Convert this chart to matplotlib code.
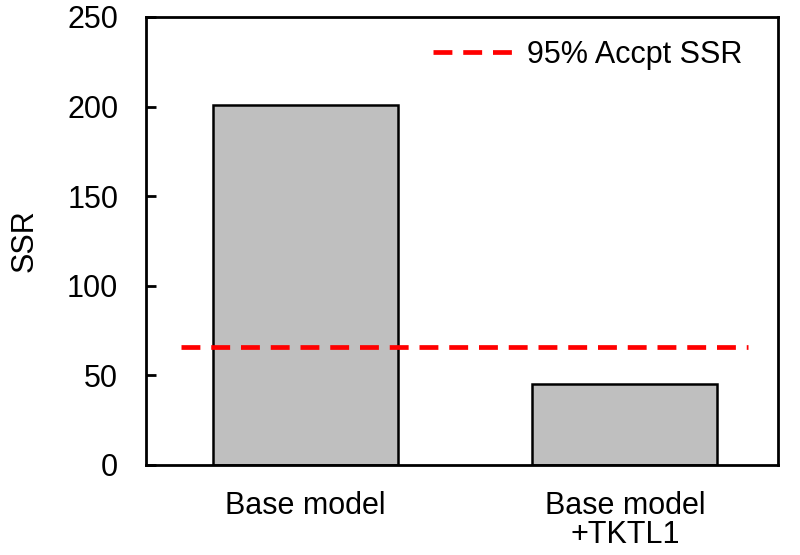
import matplotlib
matplotlib.use("Agg")
import matplotlib.pyplot as plt

categories = ["Base model", "Base model\n+TKTL1"]
ssr_values = [201, 45]
threshold = 66
threshold_x = [-0.39, 1.385]
threshold_label = "95% Accpt SSR"
y_ticks = [0, 50, 100, 150, 200, 250]

plt.rcParams['font.family'] = ['Liberation Sans', 'DejaVu Sans']
FS = 22

fig = plt.figure(figsize=(8, 5.55), dpi=100)
ax = fig.add_axes([0.1825, 0.1622, 0.79, 0.8072])

x = list(range(len(categories)))
ax.bar(x, ssr_values, width=0.58, color="#bfbfbf", edgecolor="black", linewidth=1.8, zorder=2)
ax.plot(threshold_x, [threshold, threshold], color="#ff0000", linewidth=3.4,
        linestyle=(0, (4.0, 2.3)), label=threshold_label, zorder=3)

ax.set_xlim(-0.5, 1.48)
ax.set_ylim(0, 250)
ax.set_yticks(y_ticks)
ax.set_xticks(x)
ax.set_xticklabels(categories, fontsize=FS, linespacing=0.95)
ax.tick_params(axis='x', length=0, pad=19)
ax.tick_params(axis='y', direction='in', length=7, width=2, labelsize=FS, pad=20)
for s in ax.spines.values():
    s.set_linewidth(2)
ax.set_ylabel("SSR", fontsize=FS, labelpad=20)

leg = ax.legend(loc='center right', bbox_to_anchor=(0.944, 0.915), frameon=False,
                fontsize=FS, handlelength=2.6, handletextpad=0.5, borderpad=0, borderaxespad=0)

fig.savefig("out.png", dpi=100)
